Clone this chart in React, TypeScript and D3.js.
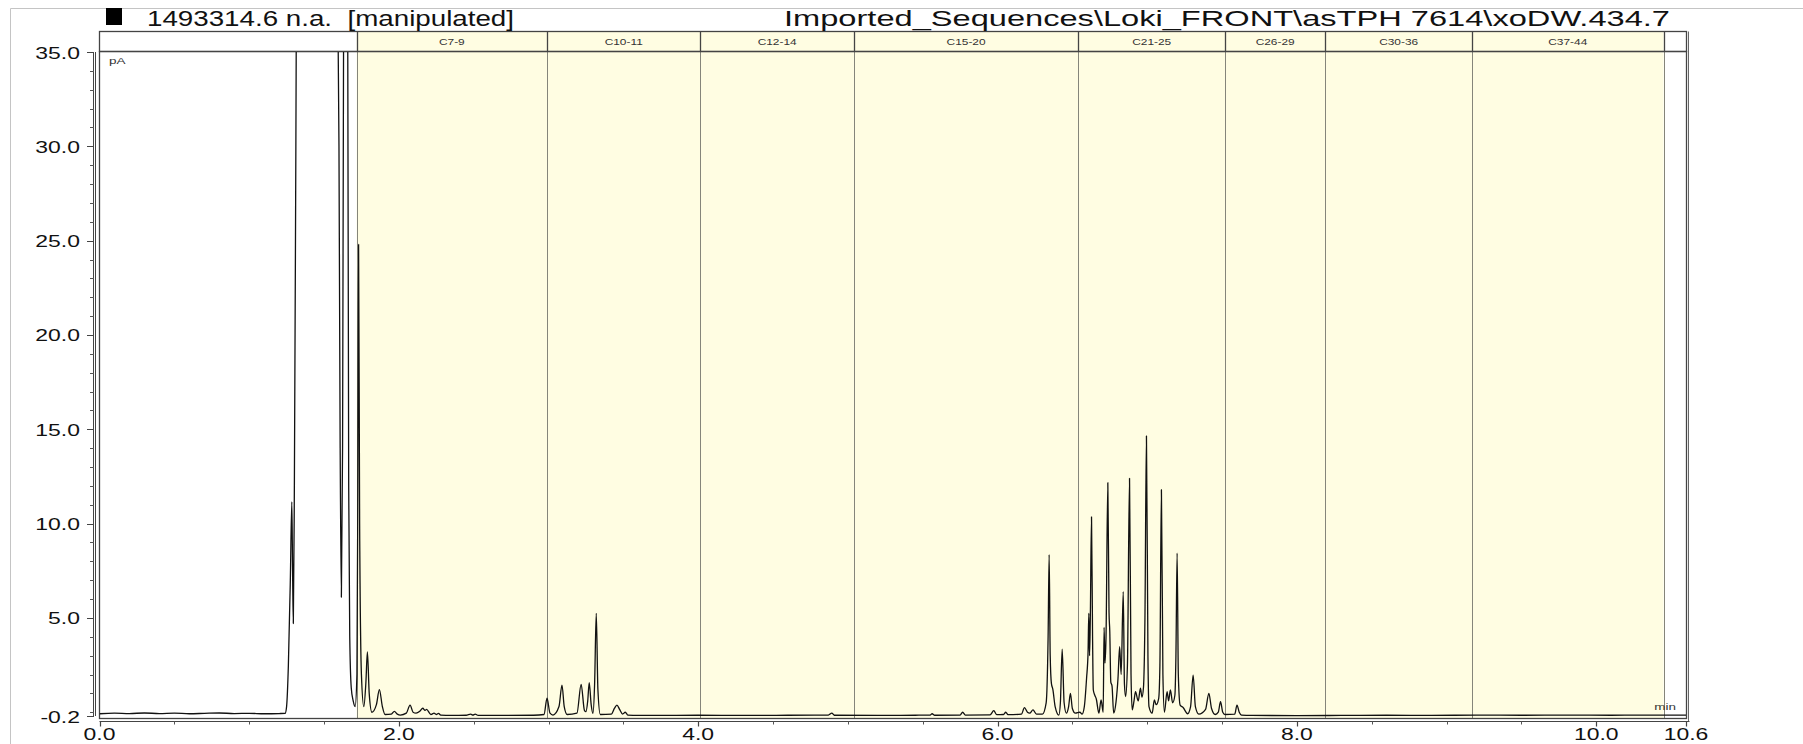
import React from 'react';
import * as d3 from 'd3';

// ---------- data ----------
const regionLabels = ['C7-9', 'C10-11', 'C12-14', 'C15-20', 'C21-25', 'C26-29', 'C30-36', 'C37-44'];
const regionStarts = [1.718, 2.99, 4.015, 5.04, 6.54, 7.52, 8.19, 9.17];
const regionEnds = [2.99, 4.015, 5.04, 6.54, 7.52, 8.19, 9.17, 10.45];

const yMajorTicks = [35, 30, 25, 20, 15, 10, 5];
const yMinorTicks = [34, 33, 32, 31, 29, 28, 27, 26, 24, 23, 22, 21, 19, 18, 17, 16, 14, 13, 12, 11, 9, 8, 7, 6, 4, 3, 2, 1, 0];
const yBottomTick = -0.2;
const xLabelTicks = [0, 2, 4, 6, 8, 10, 10.6];
const xMinorTicks = [0.5, 1, 1.5, 2.5, 3, 3.5, 4.5, 5, 5.5, 6.5, 7, 7.5, 8.5, 9, 9.5];

const titleLeft = '1493314.6 n.a.  [manipulated]';
const titleRight = 'Imported_Sequences\\Loki_FRONT\\asTPH 7614\\xoDW.434.7';

// retention time (min)
const traceTime = [
  0.0, 0.1, 0.2, 0.3, 0.4, 0.5, 0.6, 0.7, 0.8, 0.9, 1.0, 1.1, 1.2, 1.24,
  1.25, 1.262, 1.275, 1.285, 1.29, 1.295, 1.302, 1.312, 1.32,
  1.4, 1.5, 1.58,
  1.6, 1.608, 1.616, 1.624, 1.632, 1.645, 1.658,
  1.665, 1.672, 1.682, 1.695, 1.708, 1.72, 1.726, 1.731, 1.738, 1.75, 1.766, 1.78, 1.79, 1.802, 1.82, 1.85, 1.87, 1.89, 1.908,
  1.95, 1.97, 1.99, 2.01, 2.05, 2.075, 2.095, 2.115, 2.14, 2.16, 2.175, 2.185, 2.214, 2.235, 2.25, 2.265, 2.28,
  2.35, 2.45, 2.48, 2.495, 2.51, 2.53, 2.7, 2.9, 2.97, 2.99, 3.01, 3.03, 3.07, 3.09, 3.105, 3.125, 3.19, 3.218, 3.24, 3.25,
  3.262, 3.272, 3.285, 3.297, 3.308, 3.319, 3.33, 3.346, 3.42, 3.44, 3.457, 3.475, 3.495, 3.513, 3.53, 3.6,
  3.7, 4.0, 4.3, 4.6, 4.87, 4.893, 4.91, 5.2, 5.45, 5.55, 5.563, 5.58, 5.75, 5.767, 5.785, 5.95, 5.975, 5.995,
  6.04, 6.055, 6.07, 6.16, 6.18, 6.2, 6.215, 6.237, 6.26, 6.3, 6.325, 6.338, 6.345, 6.352, 6.36, 6.37, 6.385, 6.41,
  6.42, 6.432, 6.445, 6.46, 6.475, 6.487, 6.5, 6.52, 6.55, 6.565, 6.58, 6.595, 6.605, 6.61, 6.615, 6.62, 6.628, 6.635,
  6.64, 6.65, 6.66, 6.677, 6.692, 6.706, 6.712, 6.718, 6.725, 6.737, 6.745, 6.75, 6.757, 6.765, 6.776, 6.792, 6.805,
  6.816, 6.826, 6.84, 6.848, 6.856, 6.868, 6.882, 6.892, 6.9, 6.912, 6.922, 6.94, 6.955, 6.965, 6.975, 6.985, 6.995,
  7.005, 7.012, 7.033, 7.048, 7.06, 7.077, 7.085, 7.095, 7.105, 7.115, 7.133, 7.143, 7.155, 7.17, 7.185, 7.192, 7.2,
  7.208, 7.22, 7.24, 7.27, 7.29, 7.307, 7.322, 7.345, 7.39, 7.412, 7.43, 7.455, 7.475, 7.49, 7.505, 7.52, 7.585, 7.6,
  7.615, 7.63, 7.7, 8.0, 8.3, 8.6, 8.9, 9.2, 9.5, 9.8, 10.1, 10.45, 10.6,
];

// detector signal (pA)
const traceSignal = [
  -0.08, -0.05, -0.07, -0.04, -0.07, -0.05, -0.08, -0.06, -0.04, -0.07, -0.06, -0.08, -0.07, -0.06,
  0.3, 2.5, 7.0, 11.15, 7.5, 4.7, 12, 30, 45,
  60, 60, 50,
  30, 14, 6.1, 14, 40, 55, 38,
  12, 4, 1.3, 0.6, 0.3, 2.0, 12, 24.8, 10, 2, 0.3, 1.6, 3.2, 1.0, 0.0, 0.4, 1.2, 0.3, -0.12,
  -0.1, 0.05, -0.1, -0.15, -0.05, 0.38, 0.0, -0.05, 0.05, 0.21, 0.1, 0.15, -0.12, -0.05, -0.12, -0.06, -0.15,
  -0.17, -0.16, -0.1, -0.15, -0.1, -0.17, -0.17, -0.16, -0.12, 0.74, -0.05, -0.15, 0.3, 1.44, 0.3, -0.12, -0.05, 1.48, 0.1, 0.03,
  0.6, 1.57, 0.4, -0.06, 1.5, 5.24, 1.2, -0.12, -0.1, 0.2, 0.38, 0.15, -0.1, 0.0, -0.15, -0.17,
  -0.17, -0.16, -0.17, -0.16, -0.15, -0.05, -0.16, -0.17, -0.16, -0.15, -0.08, -0.16, -0.15, 0.0, -0.15, -0.14, 0.08, -0.13,
  -0.12, 0.0, -0.13, -0.1, 0.24, 0.0, -0.05, 0.12, -0.1, -0.1, 0.5, 4, 8.35, 3, 1.53, 1.2, 0.3, -0.15,
  0.5, 3.34, 0.5, -0.05, 0.3, 1.0, 0.2, -0.05, 0.0, -0.1, 0.3, 1.8, 3.2, 5.24, 3.0, 5.0, 10.36, 4,
  1.18, 0.9, 0.7, -0.05, 0.65, 0.0, 4.5, 2.6, 4.0, 12.17, 5.3, 4.3, 1.6, 1.4, -0.05, 0.56, 1.8,
  3.48, 2.0, 6.39, 1.5, 0.83, 2.5, 12.4, 2.0, 0.12, 0.6, 1.09, 0.6, 1.27, 0.8, 1.3, 5, 14.65,
  3, 0.3, -0.05, 0.65, 0.4, 0.74, 2.5, 11.8, 2, 0.0, 1.09, 0.6, 1.18, 0.5, 0.9, 3, 8.43,
  2, 0.38, 0.25, -0.08, 0.3, 1.97, 0.3, -0.1, 0.15, 1.0, 0.2, -0.12, 0.0, 0.56, 0.0, -0.12, -0.1, 0.38,
  0.0, -0.15, -0.17, -0.18, -0.17, -0.16, -0.17, -0.15, -0.16, -0.15, -0.16, -0.15, -0.15,
];

// ---------- layout ----------
const W = 1803;
const H = 744;
const FRAME_L = 99.5;
const FRAME_R = 1686.5;
const HEADER_TOP = 31.5;
const HEADER_BOT = 51.5;
const FRAME_BOT = 718.5;
const AXIS_Y = 721.5;
const SX = 1.35;

const x = d3.scaleLinear().domain([0, 10.6]).range([99.5, 1686]);
const y = d3.scaleLinear().domain([-0.2, 35]).range([716, 52]);

const YELLOW = '#fffde2';
const FONT = '"Liberation Sans", Arial, sans-serif';

function SText(props: { x: number; y: number; size: number; anchor?: string; fill?: string; sx?: number; children: React.ReactNode }) {
  const { x: tx, y: ty, size, anchor = 'start', fill = '#111', sx = SX, children } = props;
  return (
    <text
      transform={`translate(${tx},${ty}) scale(${sx},1)`}
      fontFamily={FONT}
      fontSize={size}
      textAnchor={anchor}
      fill={fill}
    >
      {children}
    </text>
  );
}

export default function App() {
  const pts: [number, number][] = traceTime.map((t, i) => [t, traceSignal[i]]);
  const line = d3
    .line<[number, number]>()
    .x((d) => x(d[0]))
    .y((d) => y(d[1]))
    .curve(d3.curveMonotoneX);
  const pathD = line(pts) || '';
  const bounds = regionStarts.concat([regionEnds[regionEnds.length - 1]]);

  return (
    <svg width={W} height={H} style={{ position: 'absolute', left: 0, top: 0, background: '#fff' }}>
      <defs>
        <clipPath id="plotClip">
          <rect x={FRAME_L} y={HEADER_BOT + 0.5} width={FRAME_R - FRAME_L} height={FRAME_BOT - HEADER_BOT} />
        </clipPath>
      </defs>
      <rect x={0} y={0} width={W} height={H} fill="#fff" />
      {/* outer light frame */}
      <line x1={10.5} y1={8.5} x2={W} y2={8.5} stroke="#c4c4c4" strokeWidth={1} />
      <line x1={10.5} y1={8.5} x2={10.5} y2={H} stroke="#c4c4c4" strokeWidth={1} />

      {/* yellow regions */}
      {regionLabels.map((lab, i) => (
        <rect
          key={'r' + lab}
          x={x(regionStarts[i])}
          y={HEADER_TOP}
          width={x(regionEnds[i]) - x(regionStarts[i])}
          height={FRAME_BOT - HEADER_TOP}
          fill={YELLOW}
        />
      ))}
      {/* boundary lines in plot */}
      {bounds.map((t, i) => (
        <line
          key={'b' + i}
          x1={Math.round(x(t)) + 0.5}
          x2={Math.round(x(t)) + 0.5}
          y1={HEADER_BOT}
          y2={FRAME_BOT}
          stroke="#85857a"
          strokeWidth={1}
        />
      ))}
      {/* header row */}
      <rect x={FRAME_L} y={HEADER_TOP} width={FRAME_R - FRAME_L} height={HEADER_BOT - HEADER_TOP} fill="none" stroke="#444" strokeWidth={1.3} />
      {bounds.map((t, i) => (
        <line
          key={'hb' + i}
          x1={Math.round(x(t)) + 0.5}
          x2={Math.round(x(t)) + 0.5}
          y1={HEADER_TOP}
          y2={HEADER_BOT}
          stroke="#444"
          strokeWidth={1.3}
        />
      ))}
      {regionLabels.map((lab, i) => (
        <SText key={'hl' + lab} x={(x(regionStarts[i]) + x(regionEnds[i])) / 2} y={44.5} size={8.5} anchor="middle" fill="#333" sx={1.4}>
          {lab}
        </SText>
      ))}

      {/* title */}
      <rect x={106} y={8} width={16} height={17} fill="#000" />
      <text
        x={147}
        y={25.5}
        fontFamily={FONT}
        fontSize={22}
        fill="#111"
        textLength={367}
        lengthAdjust="spacingAndGlyphs"
        style={{ whiteSpace: 'pre' }}
      >
        {titleLeft}
      </text>
      <text
        x={784}
        y={25.5}
        fontFamily={FONT}
        fontSize={22}
        fill="#111"
        textLength={886}
        lengthAdjust="spacingAndGlyphs"
        style={{ whiteSpace: 'pre' }}
      >
        {titleRight}
      </text>

      {/* plot frame */}
      <rect x={FRAME_L} y={HEADER_BOT} width={FRAME_R - FRAME_L} height={FRAME_BOT - HEADER_BOT} fill="none" stroke="#444" strokeWidth={1.3} />
      <line x1={FRAME_R + 2} x2={FRAME_R + 2} y1={HEADER_TOP} y2={AXIS_Y} stroke="#666" strokeWidth={1} />

      {/* trace */}
      <g clipPath="url(#plotClip)">
        <path d={pathD} fill="none" stroke="#111" strokeWidth={1.3} strokeLinejoin="round" />
      </g>

      {/* y axis */}
      <line x1={93.5} x2={93.5} y1={y(35)} y2={y(yBottomTick)} stroke="#444" strokeWidth={1} />
      <line x1={95.5} x2={95.5} y1={y(35)} y2={y(yBottomTick)} stroke="#444" strokeWidth={1} />
      {yMajorTicks.concat([yBottomTick]).map((v) => (
        <g key={'yt' + v}>
          <line x1={87} x2={94} y1={Math.round(y(v)) + 0.5} y2={Math.round(y(v)) + 0.5} stroke="#444" strokeWidth={1} />
          <SText x={80} y={y(v) + 6.5} size={17} anchor="end">
            {v.toFixed(1)}
          </SText>
        </g>
      ))}
      {yMinorTicks.map((v) => (
        <line key={'ym' + v} x1={90} x2={94} y1={Math.round(y(v)) + 0.5} y2={Math.round(y(v)) + 0.5} stroke="#555" strokeWidth={1} />
      ))}

      {/* x axis */}
      <line x1={FRAME_L} x2={FRAME_R + 3} y1={AXIS_Y} y2={AXIS_Y} stroke="#444" strokeWidth={1.2} />
      {xLabelTicks.map((t) => (
        <g key={'xt' + t}>
          <line x1={Math.round(x(t)) + 0.5} x2={Math.round(x(t)) + 0.5} y1={AXIS_Y} y2={AXIS_Y + 5} stroke="#444" strokeWidth={1.2} />
          <SText x={x(t)} y={740} size={17} anchor="middle">
            {t.toFixed(1)}
          </SText>
        </g>
      ))}
      {xMinorTicks.map((t) => (
        <line key={'xm' + t} x1={Math.round(x(t)) + 0.5} x2={Math.round(x(t)) + 0.5} y1={AXIS_Y} y2={AXIS_Y + 3} stroke="#555" strokeWidth={1} />
      ))}

      {/* unit labels */}
      <SText x={109} y={64} size={9} fill="#333" sx={1.5}>pA</SText>
      <SText x={1676} y={710} size={9} anchor="end" fill="#333" sx={1.5}>min</SText>
    </svg>
  );
}
